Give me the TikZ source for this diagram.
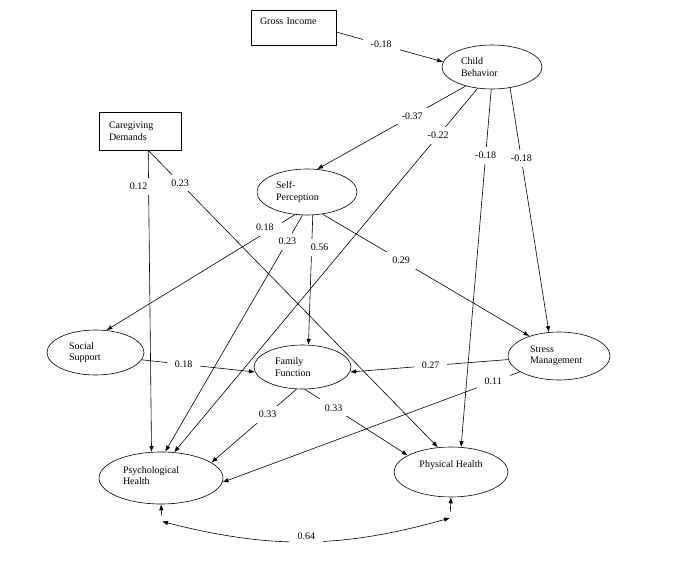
\documentclass[tikz,border=0pt]{standalone}
\usepackage{fontspec}
\setmainfont{Liberation Serif}
\usetikzlibrary{shapes.geometric,arrows.meta}

\tikzstyle{edgearrow} = [-{Latex[length=6pt,width=4.5pt]}]
\tikzstyle{arrow} = [draw, edgearrow]
\tikzstyle{dblarrow} = [draw, {Latex[length=6pt,width=4.5pt]}-{Latex[length=6pt,width=4.5pt]}]
\tikzstyle{latent} = [draw, ellipse, inner sep=0pt, align=left]
\tikzstyle{observed} = [draw, rectangle, inner sep=0pt, align=left]
\tikzstyle{coef} = [fill=white, inner xsep=8pt, inner ysep=5pt]

\begin{document}
\begin{tikzpicture}[x=1pt, y=-1pt, line width=0.6pt, font=\fontsize{10}{11.5}\selectfont]
    \useasboundingbox (0,0) rectangle (685,569);

    % observed variables
    \node[observed, minimum width=85pt, minimum height=35pt, text width=67pt, text depth=12pt] (gi) at (293.5,27.5) {Gross Income};
    \node[observed, minimum width=82pt, minimum height=38pt, text width=62pt] (cd) at (140,131) {Caregiving\\Demands};

    % latent variables
    \node[latent, minimum width=100pt, minimum height=44pt, text width=62pt] (cb) at (492,67) {Child\\Behavior};
    \node[latent, minimum width=100pt, minimum height=46pt, text width=62pt] (sp) at (307,192) {Self-\\Perception};
    \node[latent, minimum width=97pt, minimum height=45pt, text width=53pt] (ss) at (95.5,352.5) {Social\\Support};
    \node[latent, minimum width=97pt, minimum height=44pt, text width=55pt] (ff) at (302.5,367) {Family\\Function};
    \node[latent, minimum width=102pt, minimum height=48pt, text width=58pt] (sm) at (559,356) {Stress\\Management};
    \node[latent, minimum width=124pt, minimum height=52pt, text width=76pt, text depth=16pt] (ps) at (161,478) {Psychological\\Health};
    \node[latent, minimum width=114pt, minimum height=50pt, text depth=15pt] (ph) at (451,472) {Physical Health};

    % paths
    \path[edgearrow]
        (gi.-6) edge node[coef, pos=0.42] {-0.18} (cb.174)
        (cb.216) edge node[coef, pos=0.36] {-0.37} (sp.66)
        (cb.236) edge node[coef, pos=0.13] {-0.22} (ps.63)
        (cb.268) edge node[coef, pos=0.185] {-0.18} (ph.68)
        (cb.-49) edge node[coef, pos=0.29] {-0.18} (sm.113)
        (cd.-67) edge node[coef, pos=0.12, xshift=-10pt] {0.12} (ps.110)
        (cd.-67) edge node[coef, pos=0.11] {0.23} (ph.118)
        (sp.242) edge node[coef, pos=0.16, yshift=6pt] {0.18} (ss.64)
        (sp.259) edge node[coef, pos=0.11] {0.23} (ps.81)
        (sp.284) edge node[coef, pos=0.25, xshift=8pt] {0.56} (ff.75)
        (sp.305) edge node[coef, pos=0.38] {0.29} (sm.146)
        (ss.351) edge node[coef, pos=0.37] {0.18} (ff.186)
        (sm.184) edge node[coef, pos=0.49] {0.27} (ff.354)
        (sm.202) edge node[coef, pos=0.09] {0.11} (ps.-4)
        (ff.255) edge node[coef, pos=0.34] {0.33} (ps.17)
        (ff.276) edge node[coef, pos=0.28] {0.33} (ph.159);

    % covariance
    \coordinate (psB) at (162,521.5);
    \coordinate (phB) at (450,518);
    \path[edgearrow, shorten <=6pt]
        (psB) edge (ps.south)
        (phB) edge (ph.south);
    \draw[dblarrow] (psB) to[bend right=15] node[coef, yshift=5pt] {0.64} (phB);
\end{tikzpicture}
\end{document}
